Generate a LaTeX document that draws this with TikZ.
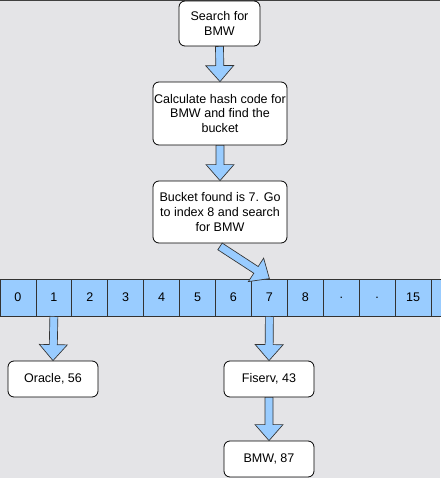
\documentclass[tikz,border=0pt]{standalone}
\usepackage{fontspec}
\setmainfont{Liberation Sans}
\usetikzlibrary{calc}
\definecolor{bggray}{HTML}{E4E4E7}
\definecolor{cellblue}{HTML}{99CCFF}
\tikzset{
  box/.style={draw=black, fill=white, rounded corners=4.5pt, line width=0.6pt,
    align=center, inner sep=0pt, font=\fontsize{9.4}{10.9}\selectfont},
  cell/.style={draw=black!80, fill=cellblue, line width=0.6pt, inner sep=0pt,
    minimum width=26.94pt, minimum height=27.75pt, font=\fontsize{9.4}{11}\selectfont},
  barrow/.style={draw=black!80, fill=cellblue, line width=0.5pt, line join=miter},
}
\newcommand{\blockarrow}[2]{%
  \path ($(#2)!12pt!(#1)$) coordinate (h);
  \draw[barrow] ($(#1)!3pt!90:(#2)$) -- ($(h)!3pt!90:(#2)$) -- ($(h)!10.5pt!90:(#2)$)
    -- (#2) -- ($(h)!10.5pt!-90:(#2)$) -- ($(h)!3pt!-90:(#2)$) -- ($(#1)!3pt!-90:(#2)$) -- cycle;}

\begin{document}
\begin{tikzpicture}[x=0.75pt, y=-0.75pt]
  \fill[bggray] (0,0) rectangle (440,478);
  \useasboundingbox (0,0) rectangle (440,478);
  \draw[black!75, line width=1.5pt] (0,0.5) -- (440,0.5);

  \node[box, minimum width=60.75pt, minimum height=33.75pt] (search) at (219.5,23.5) {Search for\\BMW};
  \node[box, minimum width=100.5pt, minimum height=47.25pt] (hash) at (220,113.5) {Calculate hash code for\\BMW and find the\\bucket};
  \node[box, minimum width=100.5pt, minimum height=46.5pt] (found) at (220,212) {Bucket found is 7. Go\\to index 8 and search\\for BMW};

  \foreach \lab [count=\i from 0] in {0,1,2,3,4,5,6,7,8,.,.,15,{}}
    \node[cell] (c\i) at ({17.96+35.92*\i},297.5) {\lab};

  \node[box, minimum width=67.5pt, minimum height=27pt] (oracle) at (53,379) {Oracle, 56};
  \node[box, minimum width=67.5pt, minimum height=27pt] (fiserv) at (269,379) {Fiserv, 43};
  \node[box, minimum width=67.5pt, minimum height=27pt] (bmw) at (269,459) {BMW, 87};

  \blockarrow{search.south}{hash.north}
  \blockarrow{hash.south}{found.north}
  \coordinate (fs) at ($(found.south)+(0,3)$);
  \blockarrow{fs}{c7.north}
  \blockarrow{c1.south}{oracle.north}
  \blockarrow{c7.south}{fiserv.north}
  \blockarrow{fiserv.south}{bmw.north}
\end{tikzpicture}
\end{document}
